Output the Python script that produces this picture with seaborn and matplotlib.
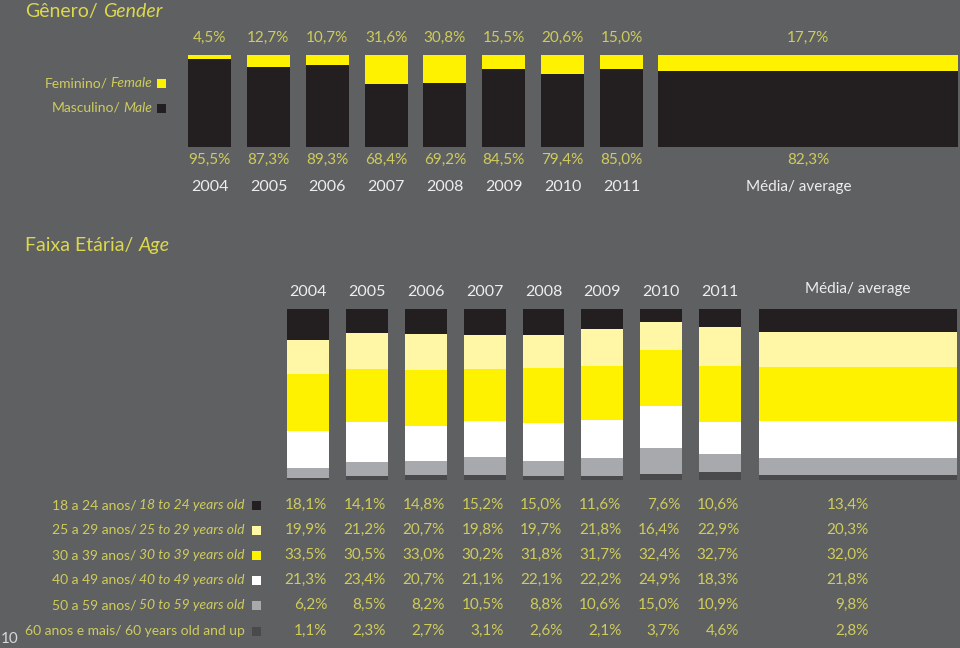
import numpy as np
import pandas as pd
import matplotlib.pyplot as plt
import matplotlib.transforms as mtransforms
from matplotlib.patches import Rectangle
import seaborn as sns

# %% data
years = ['2004', '2005', '2006', '2007', '2008', '2009', '2010', '2011']
female = [4.5, 12.7, 10.7, 31.6, 30.8, 15.5, 20.6, 15.0]
male = [95.5, 87.3, 89.3, 68.4, 69.2, 84.5, 79.4, 85.0]
female_avg = 17.7
male_avg = 82.3

age_pt = ['18 a 24 anos/ ', '25 a 29 anos/ ', '30 a 39 anos/ ',
          '40 a 49 anos/ ', '50 a 59 anos/ ', '60 anos e mais/ ']
age_en = ['18 to 24 years old', '25 to 29 years old', '30 to 39 years old',
          '40 to 49 years old', '50 to 59 years old', '60 years old and up']
age_18_24 = [18.1, 14.1, 14.8, 15.2, 15.0, 11.6, 7.6, 10.6]
age_25_29 = [19.9, 21.2, 20.7, 19.8, 19.7, 21.8, 16.4, 22.9]
age_30_39 = [33.5, 30.5, 33.0, 30.2, 31.8, 31.7, 32.4, 32.7]
age_40_49 = [21.3, 23.4, 20.7, 21.1, 22.1, 22.2, 24.9, 18.3]
age_50_59 = [6.2, 8.5, 8.2, 10.5, 8.8, 10.6, 15.0, 10.9]
age_60_up = [1.1, 2.3, 2.7, 3.1, 2.6, 2.1, 3.7, 4.6]
age_avg = [13.4, 20.3, 32.0, 21.8, 9.8, 2.8]

# %% style
BG = '#5f6062'
TXT = '#cfcc5c'
TITLE = '#dcd84e'
WHITE_TXT = '#eeeeee'
BLACK = '#231f20'
YELLOW = '#fff200'
age_colors = ['#231f20', '#fff6a6', '#fff200', '#ffffff', '#a7a9ac', '#4a4a4c']

sns.set_theme(style='white')
plt.rcParams['font.family'] = ['Lato', 'DejaVu Sans']

W, H = 960, 648
fig = plt.figure(figsize=(W / 100, H / 100), dpi=100, facecolor=BG)


def fx(x):
    return x / W


def fy(y):
    return 1 - y / H


def pct(v):
    return f'{v:.1f}%'.replace('.', ',')


def stacked(ax, cats, layers, colors, width):
    # layers listed top -> bottom; draw cumulative totals tallest first
    df = pd.DataFrame(layers).T
    for i in range(len(colors)):
        tot = df.iloc[:, i:].sum(axis=1).values
        sns.barplot(x=cats, y=tot, color=colors[i], width=width,
                    saturation=1, linewidth=0, ax=ax)
    ax.set_xlim(-0.5, len(cats) - 0.5)
    ax.set_ylim(0, df.sum(axis=1).max())
    ax.axis('off')


# %% gender
ax_g = fig.add_axes([fx(180.1), fy(147), 470.9 / W, 92 / H])
ax_ga = fig.add_axes([fx(658), fy(147), 300 / W, 92 / H])
for a in (ax_g, ax_ga):
    a.set_facecolor('none')
stacked(ax_g, years, [female, male], [YELLOW, BLACK], 0.73)
stacked(ax_ga, ['Média'], [[female_avg], [male_avg]], [YELLOW, BLACK], 1.0)

PCT_FS = 11
YEAR_FS = 11.5
tg = mtransforms.blended_transform_factory(ax_g.transData, fig.transFigure)
for i, yr in enumerate(years):
    fig.text(i, fy(38), pct(female[i]), transform=tg, ha='center', va='center',
             color=TXT, fontsize=PCT_FS)
    fig.text(i, fy(160), pct(male[i]), transform=tg, ha='center', va='center',
             color=TXT, fontsize=PCT_FS)
    fig.text(i, fy(187), yr, transform=tg, ha='center', va='center',
             color=WHITE_TXT, fontsize=YEAR_FS)
tga = mtransforms.blended_transform_factory(ax_ga.transData, fig.transFigure)
fig.text(0, fy(38), pct(female_avg), transform=tga, ha='center', va='center',
         color=TXT, fontsize=PCT_FS)
fig.text(0, fy(160), pct(male_avg), transform=tga, ha='center', va='center',
         color=TXT, fontsize=PCT_FS)
fig.text(-0.03, fy(187), 'Média/ average', transform=tga, ha='center', va='center',
         color=WHITE_TXT, fontsize=11)

renderer = fig.canvas.get_renderer()


def two_style(x_right, y, normal, italic, size, color):
    t = fig.text(fx(x_right), fy(y), italic, style='italic', ha='right',
                 va='baseline', color=color, fontsize=size)
    w = t.get_window_extent(renderer).width
    fig.text(fx(x_right - w - 3), fy(y), normal.rstrip(), ha='right',
             va='baseline', color=color, fontsize=size)


def square(x, y, color, s=9):
    fig.patches.append(Rectangle((fx(x), fy(y + s / 2)), s / W, s / H,
                                 transform=fig.transFigure, facecolor=color,
                                 edgecolor='none', figure=fig))


def title(x, y, normal, italic):
    t = fig.text(fx(x), fy(y), normal.rstrip(), ha='left', va='baseline',
                 color=TITLE, fontsize=14)
    w = t.get_window_extent(renderer).width
    fig.text(fx(x + w + 5), fy(y), italic, style='italic', ha='left',
             va='baseline', color=TITLE, fontsize=14)


title(25, 17, 'Gênero/ ', 'Gender')
title(25, 251, 'Faixa Etária/ ', 'Age')

two_style(152, 87, 'Feminino/ ', 'Female', 10, TXT)
two_style(152, 112, 'Masculino/ ', 'Male', 10, TXT)
square(157, 83, YELLOW)
square(157, 108, BLACK)

# %% age
ax_a = fig.add_axes([fx(278.6), fy(480), 470.9 / W, 171 / H])
ax_aa = fig.add_axes([fx(759), fy(480), 198 / W, 171 / H])
for a in (ax_a, ax_aa):
    a.set_facecolor('none')
age_rows = [age_18_24, age_25_29, age_30_39, age_40_49, age_50_59, age_60_up]
stacked(ax_a, years, age_rows, age_colors, 0.71)
stacked(ax_aa, ['Média'], [[v] for v in age_avg], age_colors, 1.0)

ta = mtransforms.blended_transform_factory(ax_a.transData, fig.transFigure)
for i, yr in enumerate(years):
    fig.text(i, fy(292), yr, transform=ta, ha='center', va='center',
             color=WHITE_TXT, fontsize=YEAR_FS)
taa = mtransforms.blended_transform_factory(ax_aa.transData, fig.transFigure)
fig.text(0, fy(289), 'Média/ average', transform=taa, ha='center', va='center',
         color=WHITE_TXT, fontsize=11)

row_y = [505, 530, 555, 580, 605, 631]
off = mtransforms.offset_copy(ta, fig=fig, x=19, units='dots')
for r, vals in enumerate(age_rows):
    y = row_y[r]
    for i, v in enumerate(vals):
        fig.text(i, fy(y), pct(v), transform=off, ha='right', va='center',
                 color=TXT, fontsize=PCT_FS)
    fig.text(fx(869), fy(y), pct(age_avg[r]), ha='right', va='center',
             color=TXT, fontsize=PCT_FS)
    if r < 5:
        two_style(245, y + 4, age_pt[r], age_en[r], 10, TXT)
    else:
        fig.text(fx(245), fy(y + 4), age_pt[r] + age_en[r], ha='right',
                 va='baseline', color=TXT, fontsize=10)
    square(252, y, age_colors[r])

fig.text(fx(1), fy(639), '10', ha='left', va='center', color='#d8d8d8', fontsize=11)

fig.savefig('out.png', dpi=100, facecolor=BG)
